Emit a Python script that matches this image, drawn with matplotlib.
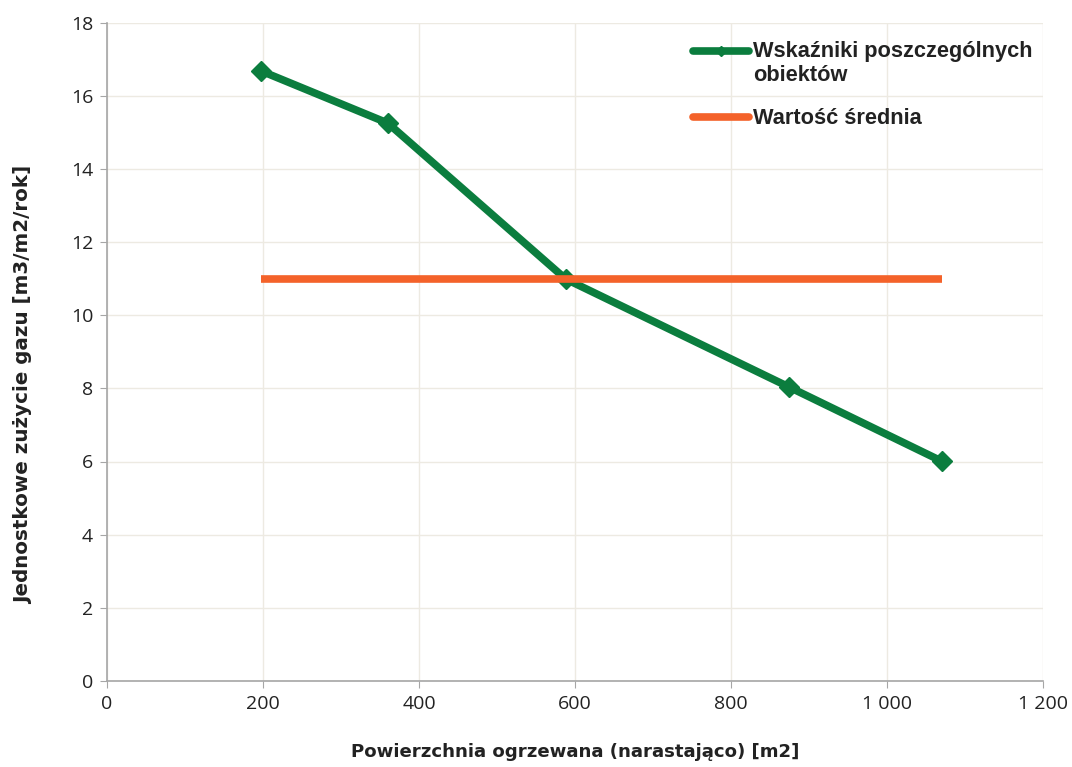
import matplotlib
matplotlib.use('Agg')
import matplotlib.pyplot as plt
from matplotlib.lines import Line2D

# ── Data ─────────────────────────────────────────────────────────────
area_cum = [197, 360, 588, 874, 1070]          # m2, cumulative
gas_index = [16.68, 15.25, 10.99, 8.04, 6.01]  # m3/m2/rok
mean_value = 11.0

xticks = [0, 200, 400, 600, 800, 1000, 1200]
xtick_labels = ['0', '200', '400', '600', '800', '1 000', '1 200']
yticks = [0, 2, 4, 6, 8, 10, 12, 14, 16, 18]

LABEL_SERIES = 'Wskaźniki poszczególnych\nobiektów'
LABEL_MEAN = 'Wartość średnia'

GREEN = '#0B7D3E'
ORANGE = '#F4622A'
GRID = '#EDEAE2'
SPINE = '#A6A6A6'
TXT = '#222222'

W, H = 1072, 767

# ── Plot ─────────────────────────────────────────────────────────────
fig = plt.figure(figsize=(W / 100, H / 100), dpi=100)
ax = fig.add_axes([107 / W, 1 - 681 / H, 936 / W, 658.5 / H])

ax.plot(area_cum, gas_index, color=GREEN, lw=5.5, marker='D', ms=10,
        label=LABEL_SERIES, zorder=3)
ax.plot([area_cum[0], area_cum[-1]], [mean_value, mean_value], color=ORANGE,
        lw=5.5, solid_capstyle='butt', label=LABEL_MEAN, zorder=4)

ax.set_xlim(0, 1200)
ax.set_ylim(0, 18)
ax.set_xticks(xticks)
ax.set_xticklabels(xtick_labels)
ax.set_yticks(yticks)

ax.grid(True, color=GRID, lw=1.0)
ax.set_axisbelow(True)
for s in ('top', 'right'):
    ax.spines[s].set_visible(False)
for s in ('left', 'bottom'):
    ax.spines[s].set_color(SPINE)
    ax.spines[s].set_linewidth(1.2)
ax.tick_params(axis='both', direction='out', length=5, color=SPINE,
               labelsize=14, labelcolor=TXT, pad=5)
for lab in ax.get_xticklabels() + ax.get_yticklabels():
    lab.set_family('Open Sans')

ax.set_xlabel('Powierzchnia ogrzewana (narastająco) [m2]', fontsize=13.1,
              fontweight='bold', color=TXT)
ax.set_ylabel('Jednostkowe zużycie gazu [m3/m2/rok]', fontsize=14.3,
              fontweight='bold', color=TXT)
ax.xaxis.set_label_coords(0.5, (681 - 743) / 658.5)
ax.yaxis.set_label_coords((33 - 107) / 936, (681 - 385) / 658.5)

# ── Legend (drawn by hand, figure pixel coords) ──────────────────────
def fx(px):
    return px / W

def fy(py):
    return 1 - py / H

legend_font = dict(family='Liberation Sans', weight='bold', size=15.7, color=TXT)
fig.add_artist(Line2D([fx(693), fx(749)], [fy(51), fy(51)], color=GREEN, lw=5.5,
                      solid_capstyle='round', transform=fig.transFigure))
fig.add_artist(Line2D([fx(721)], [fy(51)], color=GREEN, marker='D', ms=5,
                      transform=fig.transFigure))
fig.add_artist(Line2D([fx(693), fx(749)], [fy(117), fy(117)], color=ORANGE, lw=5.5,
                      solid_capstyle='round', transform=fig.transFigure))
fig.text(fx(753), fy(41), LABEL_SERIES, ha='left', va='top', linespacing=1.2,
         **legend_font)
fig.text(fx(753), fy(108), LABEL_MEAN, ha='left', va='top', **legend_font)

fig.savefig('out.png', dpi=100)
